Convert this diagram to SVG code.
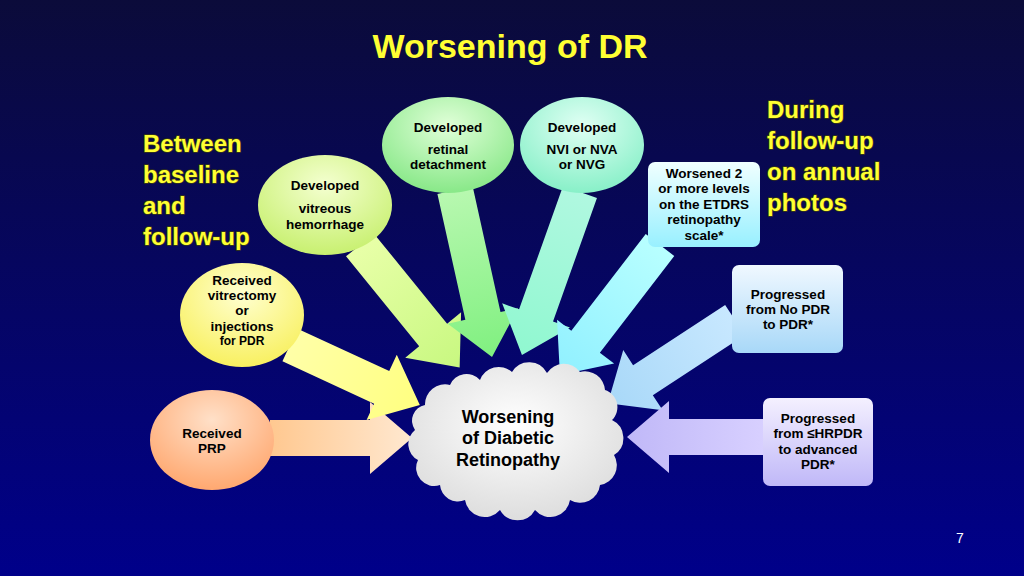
<svg xmlns="http://www.w3.org/2000/svg" width="1024" height="576" viewBox="0 0 1024 576">
<defs>
<linearGradient id="bg" x1="0" y1="0" x2="0" y2="1"><stop offset="0" stop-color="#0b0b3a"/><stop offset="1" stop-color="#00008a"/></linearGradient>
<linearGradient id="aOr" x1="0" x2="1"><stop offset="0" stop-color="#ffc890"/><stop offset="1" stop-color="#ffe8d0"/></linearGradient>
<linearGradient id="aYe" x1="0" x2="1"><stop offset="0" stop-color="#ffffa8"/><stop offset="1" stop-color="#ffff80"/></linearGradient>
<linearGradient id="aYg" x1="0" x2="1"><stop offset="0" stop-color="#e8ffa8"/><stop offset="1" stop-color="#c8f880"/></linearGradient>
<linearGradient id="aGr" x1="0" x2="1"><stop offset="0" stop-color="#b8f8b0"/><stop offset="1" stop-color="#80f080"/></linearGradient>
<linearGradient id="aMi" x1="0" x2="1"><stop offset="0" stop-color="#b0f8e0"/><stop offset="1" stop-color="#90f8d0"/></linearGradient>
<linearGradient id="aCy" x1="0" x2="1"><stop offset="0" stop-color="#b8ffff"/><stop offset="1" stop-color="#90f0ff"/></linearGradient>
<linearGradient id="aBl" x1="0" x2="1"><stop offset="0" stop-color="#c8e8ff"/><stop offset="1" stop-color="#a8d8f8"/></linearGradient>
<linearGradient id="aLa" x1="0" x2="1"><stop offset="0" stop-color="#d8d0ff"/><stop offset="1" stop-color="#c0b8f8"/></linearGradient>
<radialGradient id="nOr" cx="0.5" cy="0.3" r="0.7"><stop offset="0" stop-color="#ffe0c8"/><stop offset="1" stop-color="#ffa870"/></radialGradient>
<radialGradient id="nYe" cx="0.5" cy="0.3" r="0.7"><stop offset="0" stop-color="#ffffd0"/><stop offset="1" stop-color="#f8f060"/></radialGradient>
<radialGradient id="nYg" cx="0.5" cy="0.3" r="0.7"><stop offset="0" stop-color="#f4ffd0"/><stop offset="1" stop-color="#c8f070"/></radialGradient>
<radialGradient id="nGr" cx="0.5" cy="0.3" r="0.7"><stop offset="0" stop-color="#e0ffd8"/><stop offset="1" stop-color="#88e888"/></radialGradient>
<radialGradient id="nMi" cx="0.5" cy="0.3" r="0.7"><stop offset="0" stop-color="#e0fff4"/><stop offset="1" stop-color="#88f0c8"/></radialGradient>
<linearGradient id="nCy" x1="0" y1="0" x2="0" y2="1"><stop offset="0" stop-color="#f0ffff"/><stop offset="1" stop-color="#98f0ff"/></linearGradient>
<linearGradient id="nBl" x1="0" y1="0" x2="0" y2="1"><stop offset="0" stop-color="#f0f8ff"/><stop offset="1" stop-color="#a8d8f8"/></linearGradient>
<linearGradient id="nLa" x1="0" y1="0" x2="0" y2="1"><stop offset="0" stop-color="#f4f0ff"/><stop offset="1" stop-color="#c0b8f8"/></linearGradient>
<radialGradient id="cl" cx="0.5" cy="0.4" r="0.7"><stop offset="0" stop-color="#ffffff"/><stop offset="1" stop-color="#d8d8d8"/></radialGradient>
</defs>
<style>
.t{font-family:"Liberation Sans",Arial,sans-serif;font-weight:bold;fill:#000;text-anchor:middle}
.s{font-size:13.5px}
.y{font-family:"Liberation Sans",Arial,sans-serif;font-weight:bold;fill:#ffff33;font-size:24px;paint-order:stroke;stroke:#3a3a10;stroke-width:1.5px}
</style>
<rect width="1024" height="576" fill="url(#bg)"/>
<text x="510" y="58" class="y" style="font-size:34px;text-anchor:middle;stroke:none">Worsening of DR</text>
<g id="label-left"><text class="y" x="143" y="152">Between</text><text class="y" x="143" y="183">baseline</text><text class="y" x="143" y="214">and</text><text class="y" x="143" y="245">follow-up</text></g>
<g id="label-right"><text class="y" x="767" y="118">During</text><text class="y" x="767" y="149">follow-up</text><text class="y" x="767" y="180">on annual</text><text class="y" x="767" y="211">photos</text></g>
<g id="connectors">
<path fill="url(#aOr)" transform="translate(270,438) rotate(0)" d="M0,-18 L100,-18 L100,-36 L142,0 L100,36 L100,18 L0,18 Z"/>
<path fill="url(#aYe)" transform="translate(290,345) rotate(24.8)" d="M0,-18 L101,-18 L101,-36 L143,0 L101,36 L101,18 L0,18 Z"/>
<path fill="url(#aYg)" transform="translate(360,245) rotate(50.9)" d="M0,-18 L116,-18 L116,-36 L158,0 L116,36 L116,18 L0,18 Z"/>
<path fill="url(#aGr)" transform="translate(455,190) rotate(77.5)" d="M0,-18 L129,-18 L129,-36 L171,0 L129,36 L129,18 L0,18 Z"/>
<path fill="url(#aMi)" transform="translate(580,192) rotate(109.6)" d="M0,-18 L131,-18 L131,-36 L173,0 L131,36 L131,18 L0,18 Z"/>
<path fill="url(#aCy)" transform="translate(660,245) rotate(127.6)" d="M0,-18 L122,-18 L122,-36 L164,0 L122,36 L122,18 L0,18 Z"/>
<path fill="url(#aBl)" transform="translate(735,320) rotate(146.8)" d="M0,-18 L110,-18 L110,-36 L152,0 L110,36 L110,18 L0,18 Z"/>
<path fill="url(#aLa)" transform="translate(765,437) rotate(180)" d="M0,-18 L96,-18 L96,-36 L138,0 L96,36 L96,18 L0,18 Z"/>
</g>
<g id="prp"><ellipse cx="212" cy="440" rx="62" ry="50" fill="url(#nOr)"/><text class="t s" x="212" y="438">Received</text><text class="t s" x="212" y="453">PRP</text></g>
<g id="vitrectomy"><ellipse cx="242" cy="315" rx="62" ry="52" fill="url(#nYe)"/><text class="t s" x="242" y="285">Received</text><text class="t s" x="242" y="300">vitrectomy</text><text class="t s" x="242" y="315">or</text><text class="t s" x="242" y="331">injections</text><text class="t" style="font-size:12px" x="242" y="345">for PDR</text></g>
<g id="vitreous"><ellipse cx="325" cy="205" rx="67" ry="50" fill="url(#nYg)"/><text class="t s" x="325" y="190">Developed</text><text class="t s" x="325" y="213">vitreous</text><text class="t s" x="325" y="229">hemorrhage</text></g>
<g id="retinal"><ellipse cx="448" cy="145" rx="66" ry="48" fill="url(#nGr)"/><text class="t s" x="448" y="132">Developed</text><text class="t s" x="448" y="154">retinal</text><text class="t s" x="448" y="169">detachment</text></g>
<g id="nvi"><ellipse cx="582" cy="145" rx="62" ry="48" fill="url(#nMi)"/><text class="t s" x="582" y="132">Developed</text><text class="t s" x="582" y="154">NVI or NVA</text><text class="t s" x="582" y="169">or NVG</text></g>
<g id="worsened"><rect x="648" y="162" width="112" height="85" rx="7" fill="url(#nCy)"/><text class="t s" x="704" y="178">Worsened 2</text><text class="t s" x="704" y="193">or more levels</text><text class="t s" x="704" y="209">on the ETDRS</text><text class="t s" x="704" y="224">retinopathy</text><text class="t s" x="704" y="240">scale*</text></g>
<g id="nopdr"><rect x="732" y="265" width="111" height="88" rx="7" fill="url(#nBl)"/><text class="t s" x="788" y="299">Progressed</text><text class="t s" x="788" y="314">from No PDR</text><text class="t s" x="788" y="329">to PDR*</text></g>
<g id="hrpdr"><rect x="763" y="398" width="110" height="88" rx="7" fill="url(#nLa)"/><text class="t s" x="818" y="423">Progressed</text><text class="t s" x="818" y="438">from ≤HRPDR</text><text class="t s" x="818" y="454">to advanced</text><text class="t s" x="818" y="469">PDR*</text></g>
<g id="cloud"><path fill="url(#cl)" d="M425,405 A20,20 0 0 1 450,385 A18,18 0 0 1 480,380 A20,20 0 0 1 512,372 A20,20 0 0 1 547,373 A20,20 0 0 1 580,372 A20,20 0 0 1 605,390 A18,18 0 0 1 612,420 A20,20 0 0 1 614,455 A20,20 0 0 1 600,485 A20,20 0 0 1 570,500 A20,20 0 0 1 535,510 A20,20 0 0 1 500,510 A20,20 0 0 1 465,500 A18,18 0 0 1 440,485 A18,18 0 0 1 418,460 A18,18 0 0 1 415,430 A16,16 0 0 1 425,405 Z"/><text class="t" style="font-size:18px" x="508" y="423">Worsening</text><text class="t" style="font-size:18px" x="508" y="444">of Diabetic</text><text class="t" style="font-size:18px" x="508" y="466">Retinopathy</text></g>
<text x="960" y="543" style="font-family:'Liberation Sans',Arial,sans-serif;font-size:14px;fill:#fff;text-anchor:middle">7</text>
</svg>
